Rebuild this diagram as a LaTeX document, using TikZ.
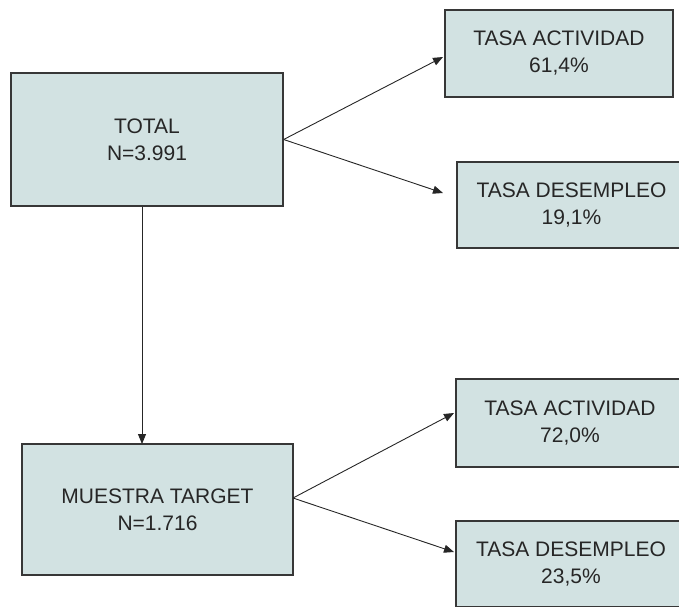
\documentclass[tikz,border=0pt]{standalone}
\usepackage{fontspec}
\setmainfont{Liberation Sans}
\usetikzlibrary{arrows.meta, positioning}
\definecolor{boxfill}{RGB}{210, 226, 226}
\definecolor{boxline}{RGB}{55, 55, 55}
\tikzset{
  ratebox/.style={draw=boxline, fill=boxfill, line width=1.3pt, align=center, inner sep=0pt, font=\fontsize{21}{27}\selectfont, text=black!85},
  flow/.style={-{Triangle[length=10pt, width=8pt]}, line width=0.9pt, black!85},
}
\begin{document}
\begin{tikzpicture}[x=1pt, y=-1pt]
  \clip (0,0) rectangle (679,606);

  % Whole sample
  \node[ratebox, minimum width=272pt, minimum height=133pt] (total) at (147, 139.5) {TOTAL\\N=3.991};

  % Rates for the whole sample
  \node[ratebox, minimum width=228pt, minimum height=87pt] (act1) at (559, 53.5) {TASA ACTIVIDAD\\61,4\%};
  \node[ratebox, minimum width=229pt, minimum height=86pt] (des1) at (571.5, 205) {TASA DESEMPLEO\\19,1\%};

  % Target sample
  \node[ratebox, minimum width=271pt, minimum height=131pt] (target) at (157.5, 509.5) {MUESTRA TARGET\\N=1.716};

  % Rates for the target sample
  \node[ratebox, minimum width=228pt, minimum height=88pt] (act2) at (570, 423) {TASA ACTIVIDAD\\72,0\%};
  \node[ratebox, minimum width=230pt, minimum height=86pt] (des2) at (571, 564) {TASA DESEMPLEO\\23,5\%};

  % Arrow ends
  \coordinate (a1tip) at (443, 57);
  \coordinate (d1tip) at (443, 193);
  \coordinate (down) at (142, 444);
  \coordinate (tout) at (293, 498);
  \coordinate (a2tip) at (454, 413);
  \coordinate (d2tip) at (454, 552);

  % Arrows
  \draw[flow] (total.east) -- (a1tip);
  \draw[flow] (total.east) -- (d1tip);
  \draw[flow] (total.south -| down) -- (down);
  \draw[flow] (tout) -- (a2tip);
  \draw[flow] (tout) -- (d2tip);
\end{tikzpicture}
\end{document}
